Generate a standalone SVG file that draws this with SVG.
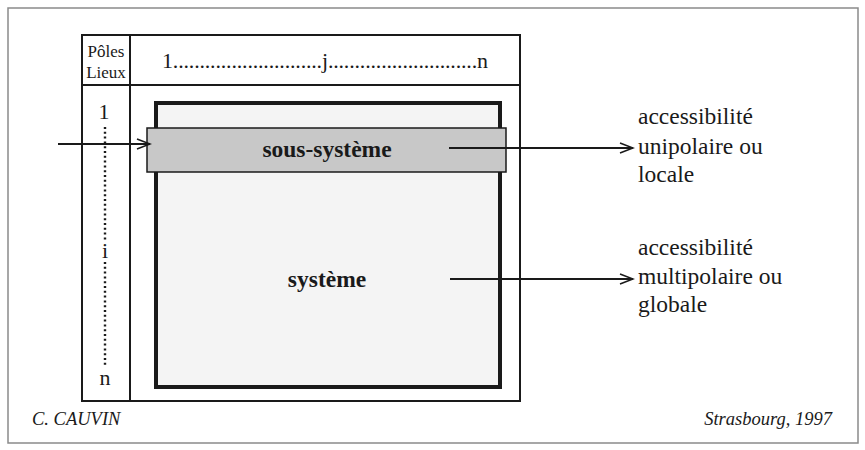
<svg xmlns="http://www.w3.org/2000/svg" width="865" height="450" viewBox="0 0 865 450">
<style>
.t{font-family:"Liberation Serif","Times New Roman",serif;fill:#1a1a1a}
.lbl{font-size:23.5px}
.b{font-weight:bold;font-size:23.5px}
.it{font-style:italic;font-size:18.5px}
.ln{stroke:#1a1a1a;fill:none}
.dot{stroke:#1a1a1a;fill:none;stroke-width:2.4;stroke-dasharray:2,2.8}
</style>
<defs>
<marker id="ah" markerWidth="16" markerHeight="12" refX="14" refY="6" orient="auto" markerUnits="userSpaceOnUse">
<path d="M1,1 L14,6 L1,11" fill="none" stroke="#1a1a1a" stroke-width="1.6"/>
</marker>
</defs>
<rect width="865" height="450" fill="#ffffff"/>
<g id="frame">
<rect x="8" y="8" width="850" height="435" fill="#ffffff" stroke="#8a8a8a" stroke-width="1.5"/>
</g>
<g id="table">
<rect x="82" y="35" width="438" height="366" fill="#ffffff" stroke="#1a1a1a" stroke-width="2"/>
<line class="ln" x1="130" y1="35" x2="130" y2="401" stroke-width="2"/>
<line class="ln" x1="82" y1="85" x2="520" y2="85" stroke-width="2"/>
<text class="t" x="106" y="57" font-size="17" text-anchor="middle">Pôles</text>
<text class="t" x="106" y="78" font-size="17" text-anchor="middle">Lieux</text>
<text class="t" x="162" y="68" font-size="22" textLength="326" lengthAdjust="spacing">1............................j............................n</text>
<text class="t" x="104" y="119" font-size="22" text-anchor="middle">1</text>
<line class="dot" x1="105" y1="127" x2="105" y2="240"/>
<text class="t" x="105" y="258" font-size="22" text-anchor="middle">i</text>
<line class="dot" x1="105" y1="262" x2="105" y2="366"/>
<text class="t" x="105" y="385" font-size="22" text-anchor="middle">n</text>
</g>
<g id="systeme">
<rect x="156" y="103" width="344" height="284" fill="#f4f4f4" stroke="#1a1a1a" stroke-width="4"/>
<text class="t b" x="327" y="287" text-anchor="middle">système</text>
</g>
<g id="sous-systeme">
<rect x="147" y="128" width="359" height="44" fill="#c8c8c8" stroke="#1a1a1a" stroke-width="1.5"/>
<text class="t b" x="327" y="157" text-anchor="middle">sous-système</text>
</g>
<g id="connectors">
<line class="ln" x1="58" y1="144" x2="150" y2="144" stroke-width="1.8" marker-end="url(#ah)"/>
<line class="ln" x1="449" y1="148" x2="633" y2="148" stroke-width="1.8" marker-end="url(#ah)"/>
<line class="ln" x1="450" y1="279" x2="633" y2="279" stroke-width="1.8" marker-end="url(#ah)"/>
</g>
<g id="label-locale">
<text class="t lbl" x="638" y="124">accessibilité</text>
<text class="t lbl" x="638" y="154">unipolaire ou</text>
<text class="t lbl" x="638" y="182">locale</text>
</g>
<g id="label-globale">
<text class="t lbl" x="638" y="255">accessibilité</text>
<text class="t lbl" x="638" y="284">multipolaire ou</text>
<text class="t lbl" x="638" y="312">globale</text>
</g>
<g id="credits">
<text class="t it" x="32" y="425">C. CAUVIN</text>
<text class="t it" x="832" y="425" text-anchor="end">Strasbourg, 1997</text>
</g>
</svg>
